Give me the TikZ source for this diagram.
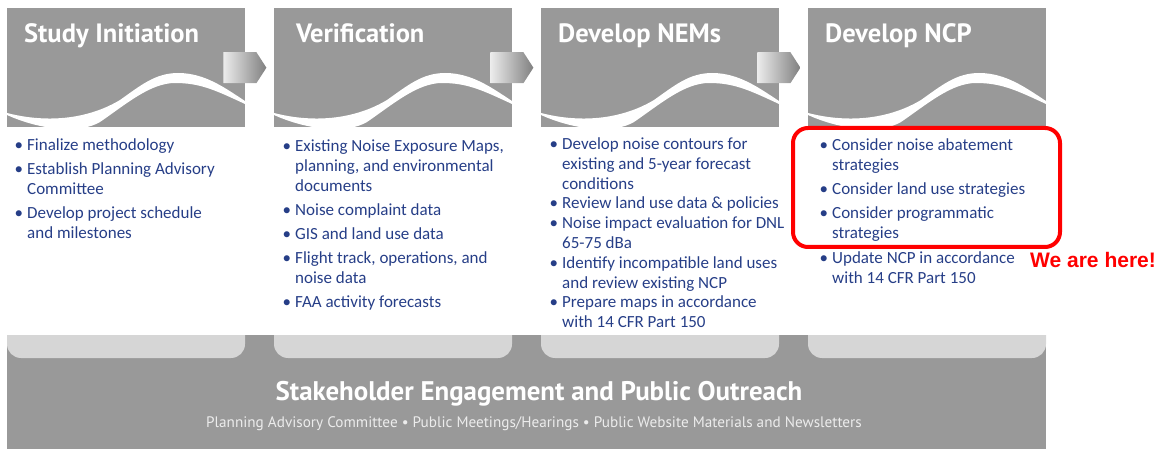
\documentclass[tikz,border=0pt]{standalone}
\usepackage{fontspec}
\setmainfont{Carlito}
\newfontfamily\headfont{PT Sans}
\newfontfamily\herefont{Liberation Sans}
\usepackage{tikz}
\usetikzlibrary{positioning,calc}
\definecolor{hdrgray}{RGB}{153,153,153}
\definecolor{tabgray}{RGB}{214,214,214}
\definecolor{navy}{RGB}{38,62,135}
\definecolor{alert}{RGB}{255,0,0}
\definecolor{faint}{RGB}{236,236,236}
\tikzstyle{Hbox}=[rectangle,fill=hdrgray,minimum width=238pt,minimum height=119pt,inner sep=0pt,anchor=north west]
\tikzstyle{Htitle}=[anchor=base west,inner sep=0pt,text=white,font=\headfont\bfseries\fontsize{26.5}{30}\selectfont]
\tikzstyle{Blist}=[anchor=north west,inner sep=0pt,text=navy,font=\fontsize{17}{20}\selectfont]
\tikzstyle{Chevron}=[left color=faint,right color=black!50]
\newcommand{\bl}{\makebox[11pt][l]{\hspace{-1.5pt}\textbullet}}

\begin{document}
\begin{tikzpicture}[x=1pt,y=-1pt]
\useasboundingbox (0,0) rectangle (1162,449);

% phase headers
\node[Hbox] (h1) at (7,8) {};
\node[Hbox] (h2) at (274,8) {};
\node[Hbox] (h3) at (541,8) {};
\node[Hbox] (h4) at (808,8) {};

\foreach \x in {7,274,541,808}{
\begin{scope}[shift={(\x,0)}]
  \clip (0,8) rectangle (238,127);
  \fill[white] (0,113) .. controls (43,124) and (83,118) .. (113,100)
     .. controls (133,86) and (148,73) .. (171,73)
     .. controls (198,73) and (218,88) .. (238,101) -- (238,104)
     .. controls (208,90) and (193,83) .. (168,83)
     .. controls (143,83) and (118,105) .. (93,122)
     .. controls (73,134) and (33,130) .. (0,115) -- cycle;
\end{scope}
}

\node[Htitle] (t1) at (24,43) {Study Initiation};
\node[Htitle] (t2) at (296,43) {Verification};
\node[Htitle] (t3) at (558,43) {Develop NEMs};
\node[Htitle] (t4) at (825,43) {Develop NCP};

% arrows between phases
\foreach \a in {h1,h2,h3}{
  \shade[Chevron] ($(\a.east)+(-22,-15.5)$) -- ++(33,0) -- ($(\a.east)+(21,0)$)
     -- ($(\a.east)+(11,15.5)$) -- ++(-33,0) -- cycle;
}

% task lists
\node[Blist] (l1) at (16,136) {\begin{tabular}{@{}l@{}l@{}}
\bl & Finalize methodology\\[4pt]
\bl & Establish Planning Advisory\\
    & Committee\\[4.5pt]
\bl & Develop project schedule\\
    & and milestones
\end{tabular}};

\node[Blist] (l2) at (284,137) {\begin{tabular}{@{}l@{}l@{}}
\bl & Existing Noise Exposure Maps,\\
    & planning, and environmental\\
    & documents\\[4.5pt]
\bl & Noise complaint data\\[4pt]
\bl & GIS and land use data\\[4pt]
\bl & Flight track, operations, and\\
    & noise data\\[4pt]
\bl & FAA activity forecasts
\end{tabular}};

\node[Blist,font=\fontsize{17}{19.8}\selectfont] (l3) at (551,135.5) {\begin{tabular}{@{}l@{}l@{}}
\bl & Develop noise contours for\\
    & existing and 5-year forecast\\
    & conditions\\
\bl & Review land use data \& policies\\
\bl & Noise impact evaluation for DNL\\
    & 65-75 dBa\\
\bl & Identify incompatible land uses\\
    & and review existing NCP\\
\bl & Prepare maps in accordance\\
    & with 14 CFR Part 150
\end{tabular}};

\node[Blist] (l4) at (821,136) {\begin{tabular}{@{}l@{}l@{}}
\bl & Consider noise abatement\\
    & strategies\\[4pt]
\bl & Consider land use strategies\\[4pt]
\bl & Consider programmatic\\
    & strategies\\[5.5pt]
\bl & Update NCP in accordance\\
    & with 14 CFR Part 150
\end{tabular}};

% current step
\node[draw=alert,line width=4pt,rounded corners=15pt,minimum width=267pt,minimum height=119pt] (now) at (926.5,187.5) {};
\node[anchor=base west,inner sep=0pt,text=alert,font=\herefont\bfseries\fontsize{21}{24}\selectfont] (here) at (1030,267) {We are here!};

% outreach band
\node[fill=hdrgray,anchor=north west,inner sep=0pt,minimum width=1039pt,minimum height=115pt] (band) at (7,335) {};
\begin{scope}
  \clip (7,335) rectangle (1046,449);
  \foreach \x in {7,274,541,808}
    \fill[tabgray,rounded corners=14pt] (\x,300) rectangle (\x+238,358);
\end{scope}
\node[anchor=base,inner sep=0pt,text=white,font=\headfont\bfseries\fontsize{26.9}{30}\selectfont] (outreach) at (539,400) {Stakeholder Engagement and Public Outreach};
\node[anchor=base,inner sep=0pt,text=faint,font=\headfont\fontsize{15.2}{18}\selectfont] (venues) at (534,427) {Planning Advisory Committee \textbullet{} Public Meetings/Hearings \textbullet{} Public Website Materials and Newsletters};

\end{tikzpicture}
\end{document}
